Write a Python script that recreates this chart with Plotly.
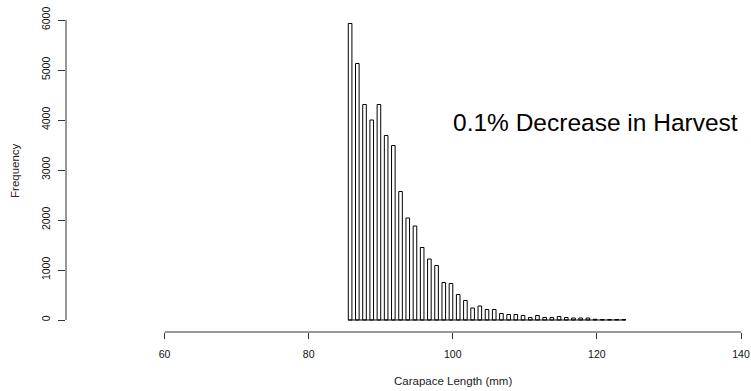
import plotly.graph_objects as go

# Histogram bins (right edges in mm, 0.5 mm wide bins; alternating empty bins)
bin_right = list(range(86, 125))
counts = [5930, 5130, 4310, 4000, 4310, 3690, 3490, 2570, 2040, 1880,
          1450, 1220, 1090, 750, 730, 510, 390, 240, 280, 210,
          210, 130, 110, 110, 90, 50, 90, 50, 50, 70,
          50, 40, 40, 40, 15, 10, 10, 10, 10]
bin_width = 0.5
x_ticks = [60, 80, 100, 120, 140]
y_ticks = [0, 1000, 2000, 3000, 4000, 5000, 6000]
title_text = "0.1% Decrease in Harvest"
x_title = "Carapace Length (mm)"
y_title = "Frequency"

centers = [r - bin_width / 2 for r in bin_right]

fig = go.Figure()
fig.add_trace(go.Bar(
    x=centers, y=counts, width=bin_width,
    marker=dict(color="white", line=dict(color="black", width=1)),
    showlegend=False, hoverinfo="x+y",
))
# baseline of the empty bins
fig.add_trace(go.Scatter(
    x=[bin_right[0] - bin_width, bin_right[-1]], y=[0, 0],
    mode="lines", line=dict(color="black", width=1),
    showlegend=False, hoverinfo="skip",
))

font_family = "Liberation Sans, Arial, sans-serif"

fig.update_layout(
    width=751, height=391,
    margin=dict(l=66, r=10, t=10, b=59, autoexpand=False),
    paper_bgcolor="white", plot_bgcolor="white",
    font=dict(family=font_family, color="black"),
    xaxis=dict(
        range=[46.32, 140], tickvals=x_ticks, ticktext=[str(v) for v in x_ticks],
        ticks="outside", ticklen=6, tickcolor="#333", tickwidth=1,
        showgrid=False, zeroline=False, showline=False, automargin=False,
        tickfont=dict(size=10.5, family=font_family, color="#111"),
        ticklabelstandoff=6,
    ),
    yaxis=dict(
        range=[-240, 6200], tickvals=y_ticks, ticktext=[str(v) for v in y_ticks],
        ticks="outside", ticklen=7, tickcolor="#333", tickwidth=1,
        showgrid=False, zeroline=False, showline=False, automargin=False,
        tickangle=-90, tickfont=dict(size=10.5, family=font_family, color="#111"),
        ticklabelstandoff=4,
    ),
    shapes=[
        dict(type="line", xref="x", yref="paper", x0=x_ticks[0], x1=x_ticks[-1],
             y0=0, y1=0, line=dict(color="#333", width=1)),
        dict(type="line", xref="paper", yref="y", x0=0, x1=0,
             y0=y_ticks[0], y1=y_ticks[-1], line=dict(color="#333", width=1)),
    ],
    annotations=[
        dict(text=title_text, xref="paper", yref="paper", x=0.7844, y=0.651,
             xanchor="center", yanchor="middle", showarrow=False,
             font=dict(size=24.5, family=font_family, color="black")),
        dict(text=x_title, xref="x", yref="paper", x=100, y=-0.152,
             xanchor="center", yanchor="middle", showarrow=False,
             font=dict(size=11.5, family=font_family, color="#222")),
        dict(text=y_title, xref="paper", yref="y", x=-0.0756, y=3000,
             xanchor="center", yanchor="middle", showarrow=False, textangle=-90,
             font=dict(size=11.5, family=font_family, color="#222")),
    ],
)

fig.write_html("out.html")
